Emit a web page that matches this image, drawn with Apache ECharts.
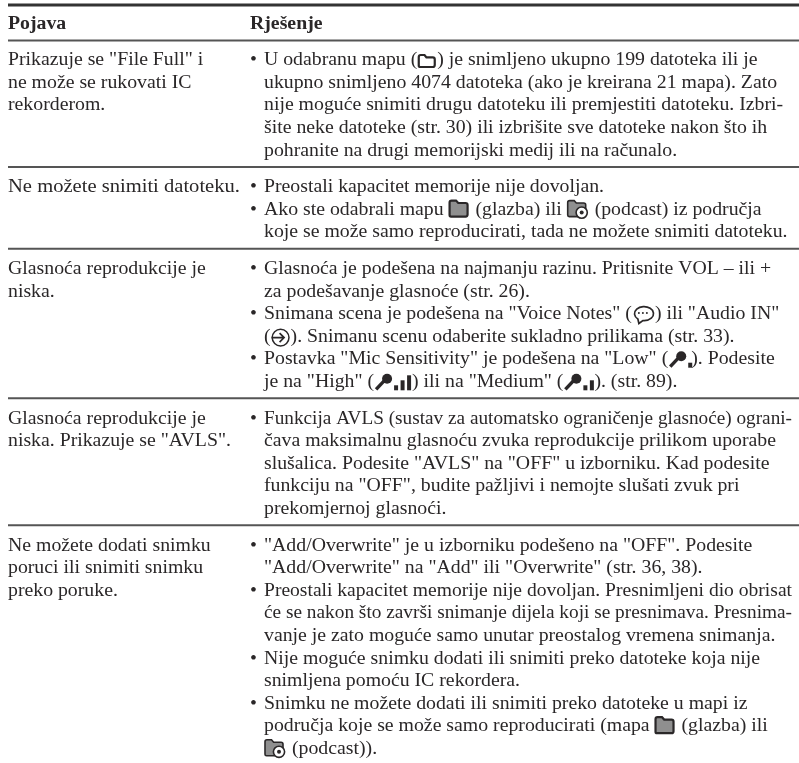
<!DOCTYPE html>
<html><head><meta charset="utf-8">
<style>html,body{margin:0;padding:0;background:#fff}#c{width:799px;height:763px}</style>
<script src="https://cdn.jsdelivr.net/npm/echarts@6/dist/echarts.min.js"></script>
</head><body><div id="c"></div>
<script>
const headers = ['Pojava', 'Rješenje'];
const symptoms = [
  ['Prikazuje se "File Full" i', 'ne može se rukovati IC', 'rekorderom.'],
  ['Ne možete snimiti datoteku.'],
  ['Glasnoća reprodukcije je', 'niska.'],
  ['Glasnoća reprodukcije je', 'niska. Prikazuje se "AVLS".'],
  ['Ne možete dodati snimku', 'poruci ili snimiti snimku', 'preko poruke.']
];
const solutions = [
  ['• U odabranu mapu ({folder}) je snimljeno ukupno 199 datoteka ili je',
   'ukupno snimljeno 4074 datoteka (ako je kreirana 21 mapa). Zato',
   'nije moguće snimiti drugu datoteku ili premjestiti datoteku. Izbri-',
   'šite neke datoteke (str. 30) ili izbrišite sve datoteke nakon što ih',
   'pohranite na drugi memorijski medij ili na računalo.'],
  ['• Preostali kapacitet memorije nije dovoljan.',
   '• Ako ste odabrali mapu {music} (glazba) ili {podcast} (podcast) iz područja',
   'koje se može samo reproducirati, tada ne možete snimiti datoteku.'],
  ['• Glasnoća je podešena na najmanju razinu. Pritisnite VOL – ili +',
   'za podešavanje glasnoće (str. 26).',
   '• Snimana scena je podešena na "Voice Notes" ({voice}) ili "Audio IN"',
   '({audio}). Snimanu scenu odaberite sukladno prilikama (str. 33).',
   '• Postavka "Mic Sensitivity" je podešena na "Low" ({micLow}). Podesite',
   'je na "High" ({micHigh}) ili na "Medium" ({micMed}). (str. 89).'],
  ['• Funkcija AVLS (sustav za automatsko ograničenje glasnoće) ograni-',
   'čava maksimalnu glasnoću zvuka reprodukcije prilikom uporabe',
   'slušalica. Podesite "AVLS" na "OFF" u izborniku. Kad podesite',
   'funkciju na "OFF", budite pažljivi i nemojte slušati zvuk pri',
   'prekomjernoj glasnoći.'],
  ['• "Add/Overwrite" je u izborniku podešeno na "OFF". Podesite',
   '"Add/Overwrite" na "Add" ili "Overwrite" (str. 36, 38).',
   '• Preostali kapacitet memorije nije dovoljan. Presnimljeni dio obrisat',
   'će se nakon što završi snimanje dijela koji se presnimava. Presnima-',
   'vanje je zato moguće samo unutar preostalog vremena snimanja.',
   '• Nije moguće snimku dodati ili snimiti preko datoteke koja nije',
   'snimljena pomoću IC rekordera.',
   '• Snimku ne možete dodati ili snimiti preko datoteke u mapi iz',
   'područja koje se može samo reproducirati (mapa {music} (glazba) ili',
   '{podcast} (podcast)).']
];

const W = 799, H = 763, LEFT = 8, COL2 = 250, INDENT = 264, MEASURE_END = 792;
const PITCH = 22.6, FONT = 'Liberation Serif', SIZE = 19.8, INK = '#2a2728';
const stretched = {'Ne možete snimiti datoteku.': 1.04};
const measure = document.createElement('canvas').getContext('2d');
const iconWidth = {folder: 20, music: 22, podcast: 23, voice: 23, audio: 20, micLow: 23, micHigh: 38, micMed: 31};

function folderPath(x, y, w, h) {
  const t = y - h / 2, b = y + h / 2, r = x + w;
  return `M${x} ${b-1.5} L${x} ${t+2} Q${x} ${t} ${x+2} ${t} L${x+w*0.36} ${t} L${x+w*0.48} ${t+2.4} L${r-2} ${t+2.4} Q${r} ${t+2.4} ${r} ${t+4.4} L${r} ${b-2} Q${r} ${b} ${r-2} ${b} L${x+1.5} ${b} Q${x} ${b} ${x} ${b-1.5} Z`;
}
function micShapes(x, y, bars) {
  const out = [
    {type: 'circle', shape: {cx: x + 13, cy: y - 3, r: 5}, style: {fill: INK}},
    {type: 'line', shape: {x1: x + 2, y1: y + 7.5, x2: x + 10, y2: y - 1}, style: {stroke: INK, lineWidth: 3.4}}
  ];
  for (let i = 0; i < bars; i++) {
    const h = 5 + i * 5;
    out.push({type: 'rect', shape: {x: x + 20 + i * 6.5, y: y + 8.5 - h, width: 4, height: h}, style: {fill: INK}});
  }
  return out;
}
function icon(name, x, y) {
  if (name === 'folder') return [{type: 'path', shape: {pathData: folderPath(x + 1.5, y + 1, 16, 12)}, style: {fill: '#fff', stroke: INK, lineWidth: 2.2}}];
  if (name === 'music') return [{type: 'path', shape: {pathData: folderPath(x + 1, y - 1, 18, 16)}, style: {fill: '#8f8f8f', stroke: INK, lineWidth: 2.2}}];
  if (name === 'podcast') return [
    {type: 'path', shape: {pathData: folderPath(x + 1, y - 1, 18, 16)}, style: {fill: '#8f8f8f', stroke: INK, lineWidth: 1.6}},
    {type: 'circle', shape: {cx: x + 15, cy: y + 3, r: 5.6}, style: {fill: '#fff', stroke: INK, lineWidth: 1.6}},
    {type: 'circle', shape: {cx: x + 15, cy: y + 3, r: 2}, style: {fill: INK}}];
  if (name === 'voice') return [
    {type: 'path', shape: {pathData: `M${x+6} ${y+5} A9.5 7 0 1 1 ${x+11} ${y+6.6} L${x+7} ${y+9.5} Z`}, style: {fill: '#fff', stroke: INK, lineWidth: 1.7}},
    {type: 'circle', shape: {cx: x + 7, cy: y - 1, r: 1}, style: {fill: INK}},
    {type: 'circle', shape: {cx: x + 11, cy: y - 1, r: 1}, style: {fill: INK}},
    {type: 'circle', shape: {cx: x + 15, cy: y - 1, r: 1}, style: {fill: INK}}];
  if (name === 'audio') return [
    {type: 'circle', shape: {cx: x + 10, cy: y + 1, r: 8.4}, style: {fill: '#fff', stroke: INK, lineWidth: 1.5}},
    {type: 'path', shape: {pathData: `M${x+1} ${y+1} L${x+13} ${y+1} M${x+9} ${y-3.5} L${x+13.5} ${y+1} L${x+9} ${y+5.5}`}, style: {fill: 'none', stroke: INK, lineWidth: 1.7}}];
  if (name === 'micLow') return micShapes(x, y, 1);
  if (name === 'micHigh') return micShapes(x, y, 3);
  return micShapes(x, y, 2);
}

// One record per text line; vertical place comes from counting lines and rows.
const lineItems = [], ruleItems = [];
let cursor = 60;
ruleItems.push([5, 3, '#333']);
ruleItems.push([40.5, 2, '#555']);
lineItems.push([LEFT, 24, headers[0], 1]);
lineItems.push([COL2, 24, headers[1], 1]);
solutions.forEach((sol, r) => {
  symptoms[r].forEach((t, i) => lineItems.push([LEFT, cursor + i * PITCH, t, 0]));
  sol.forEach((t, i) => {
    const bullet = t.startsWith('• ');
    if (bullet) lineItems.push([COL2, cursor + i * PITCH, '•', 0]);
    lineItems.push([INDENT, cursor + i * PITCH, bullet ? t.slice(2) : t, 0]);
  });
  const last = cursor + (sol.length - 1) * PITCH;
  if (r < solutions.length - 1) ruleItems.push([last + 16.5, 2, '#555']);
  cursor = last + 36.6;
});

function renderLine(params, api) {
  const item = lineItems[params.dataIndex];
  const p = api.coord([item[0], item[1]]);
  const font = `${item[3] ? 'bold ' : ''}${SIZE}px "${FONT}"`;
  measure.font = font;
  const children = [];
  let x = p[0];
  item[2].split(/(\{\w+\})/).forEach(part => {
    if (!part) return;
    const m = part.match(/^\{(\w+)\}$/);
    if (m) {
      children.push(...icon(m[1], x, p[1]));
      x += iconWidth[m[1]];
    } else {
      const w = measure.measureText(part).width;
      let k = stretched[part] || 1;
      if (x + w > MEASURE_END) k = (MEASURE_END - x) / w;
      children.push({type: 'text', x, y: p[1], scaleX: k, style: {text: part, x: 0, y: 0, fill: INK, font, verticalAlign: 'middle', textAlign: 'left'}});
      x += w * k;
    }
  });
  return {type: 'group', children};
}
function renderRule(params, api) {
  const r = ruleItems[params.dataIndex];
  const a = api.coord([LEFT, r[0]]), b = api.coord([W, r[0]]);
  return {type: 'line', shape: {x1: a[0], y1: a[1], x2: b[0], y2: b[1]}, style: {stroke: r[2], lineWidth: r[1]}};
}

const chart = echarts.init(document.getElementById('c'), null, {renderer: 'canvas'});
chart.setOption({
  animation: false,
  backgroundColor: '#fff',
  grid: {left: 0, right: 0, top: 0, bottom: 0},
  xAxis: {type: 'value', min: 0, max: W, show: false},
  yAxis: {type: 'value', min: 0, max: H, inverse: true, show: false},
  series: [
    {type: 'custom', silent: true, clip: false, renderItem: renderRule, data: ruleItems.map(r => [0, r[0]]), encode: {x: 0, y: 1}},
    {type: 'custom', silent: true, clip: false, renderItem: renderLine, data: lineItems.map(l => [l[0], l[1]]), encode: {x: 0, y: 1}}
  ]
});
</script></body></html>
